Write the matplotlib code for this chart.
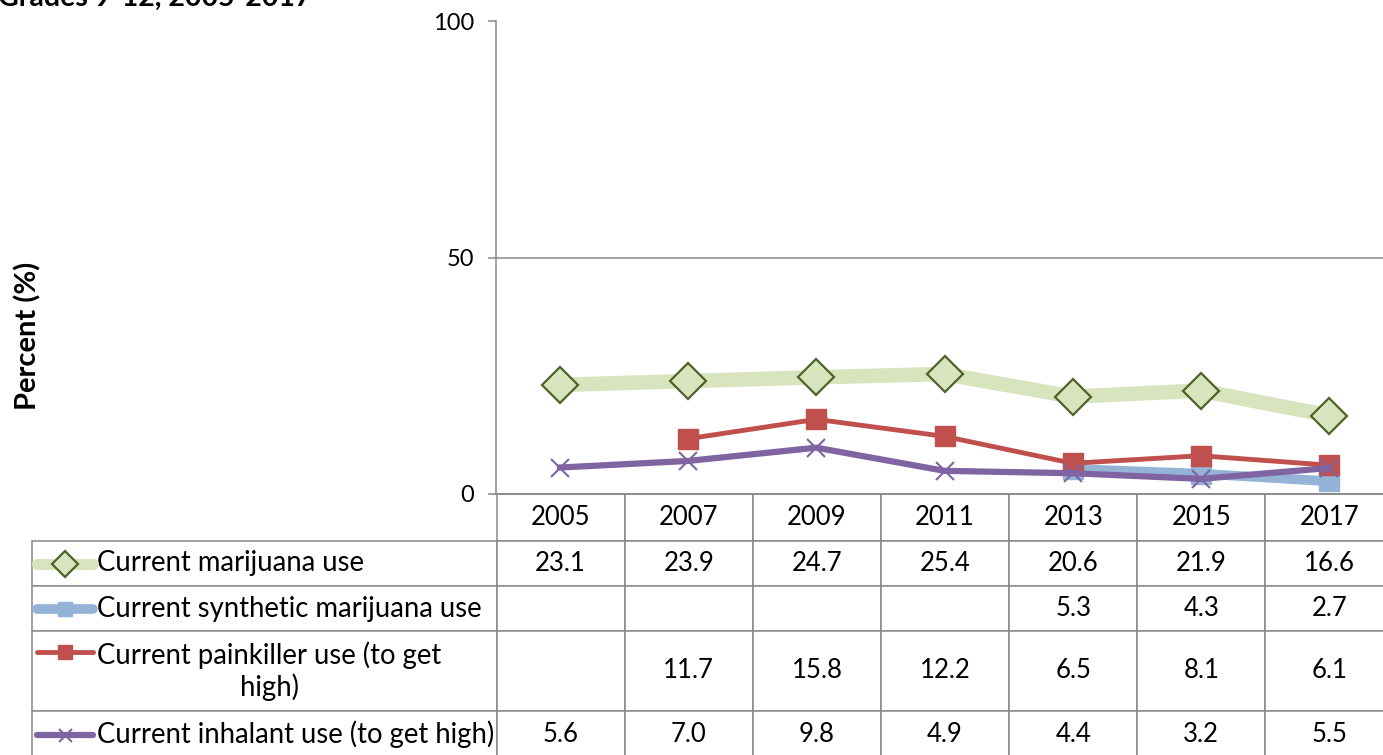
import numpy as np
import matplotlib.pyplot as plt
from matplotlib.lines import Line2D
from matplotlib.table import Table

plt.rcParams['font.family'] = ['Lato', 'DejaVu Sans']

years = ['2005', '2007', '2009', '2011', '2013', '2015', '2017']
marijuana = [23.1, 23.9, 24.7, 25.4, 20.6, 21.9, 16.6]
synthetic = [np.nan, np.nan, np.nan, np.nan, 5.3, 4.3, 2.7]
painkiller = [np.nan, 11.7, 15.8, 12.2, 6.5, 8.1, 6.1]
inhalant = [5.6, 7.0, 9.8, 4.9, 4.4, 3.2, 5.5]

labels = ['Current marijuana use', 'Current synthetic marijuana use',
          'Current painkiller use (to get\nhigh)', 'Current inhalant use (to get high)']

grid_c = '#898989'
W, H = 1383, 755
fig = plt.figure(figsize=(W / 100, H / 100), dpi=100)
# axes spans past the right edge, as in the original crop
ax = fig.add_axes([496 / W, (H - 494) / H, 897 / W, 472.5 / H])

x = np.arange(len(years))
styles = [
    dict(color='#D7E4BD', lw=10.5, marker='D', ms=18, mfc='#D7E4BD', mec='#4F6228', mew=1.6),
    dict(color='#95B3D7', lw=7, marker='s', ms=14, mfc='#95B3D7', mec='#95B3D7'),
    dict(color='#C0504D', lw=3.5, marker='s', ms=14, mfc='#C0504D', mec='#C0504D'),
    dict(color='#8064A2', lw=4.5, marker='x', ms=13, mec='#8064A2', mew=1.5),
]
series = [marijuana, synthetic, painkiller, inhalant]
for i, (vals, st) in enumerate(zip(series, styles)):
    ax.plot(x, vals, zorder=3 + i, **st)

ax.set_xlim(-0.5, 6.5)
ax.set_ylim(0, 100)
ax.set_yticks([0, 50, 100])
ax.set_xticks([])
ax.tick_params(axis='y', direction='out', length=6, width=1.1, color=grid_c,
               labelsize=17, pad=10)
ax.yaxis.grid(True, color=grid_c, lw=1.1)
ax.set_axisbelow(True)
for s in ['top', 'right']:
    ax.spines[s].set_visible(False)
for s in ['left', 'bottom']:
    ax.spines[s].set_color(grid_c)
    ax.spines[s].set_linewidth(1.1)

# data table below the plot (bbox covers the year columns only)
row_h = [47, 45, 45, 80, 46]
col_w = 128 / 897
lab_w = 464 / 897
tbl = Table(ax, bbox=[0, -263 / 472.5, 1, 263 / 472.5])
tbl.auto_set_font_size(False)
for j, yr in enumerate(years):
    tbl.add_cell(0, j, col_w, row_h[0] / 472.5, text=yr, loc='center')
for i, (lab, vals) in enumerate(zip(labels, series)):
    h = row_h[i + 1] / 472.5
    cell = tbl.add_cell(i + 1, -1, lab_w, h, text=lab, loc='left')
    cell.PAD = 65 / 464
    cell.get_text().set_multialignment('center')
    for j, v in enumerate(vals):
        tbl.add_cell(i + 1, j, col_w, h, text='' if np.isnan(v) else '%.1f' % v,
                     loc='center')
for (r, c), cell in tbl.get_celld().items():
    cell.set_edgecolor(grid_c)
    cell.set_linewidth(1.1)
    cell.get_text().set_fontsize(19.8 if c == -1 else 18.5)
ax.add_table(tbl)

# legend keys inside the row label cells
key_y = [563.5, 608.5, 652, 735]
for st, ky in zip(styles, key_y):
    yy = (H - ky) / H
    line_kw = dict(color=st['color'], lw=min(st['lw'], 8))
    mark_kw = {k: v for k, v in st.items() if k not in ('lw', 'color')}
    mark_kw['ms'] = st['ms'] * 0.72
    fig.add_artist(Line2D([37 / W, 93 / W], [yy, yy], transform=fig.transFigure,
                          solid_capstyle='round', **line_kw))
    fig.add_artist(Line2D([65 / W], [yy], transform=fig.transFigure,
                          linestyle='none', **mark_kw))

ax.set_ylabel('Percent (%)', fontsize=21, fontweight='bold')
ax.yaxis.set_label_coords(-455 / 897, 0.335)
fig.text(-2 / W, 1 - 6 / H, 'Grades 9-12, 2005-2017', fontsize=20.5,
         fontweight='bold', ha='left', va='baseline')

fig.savefig('out.png', dpi=100)
